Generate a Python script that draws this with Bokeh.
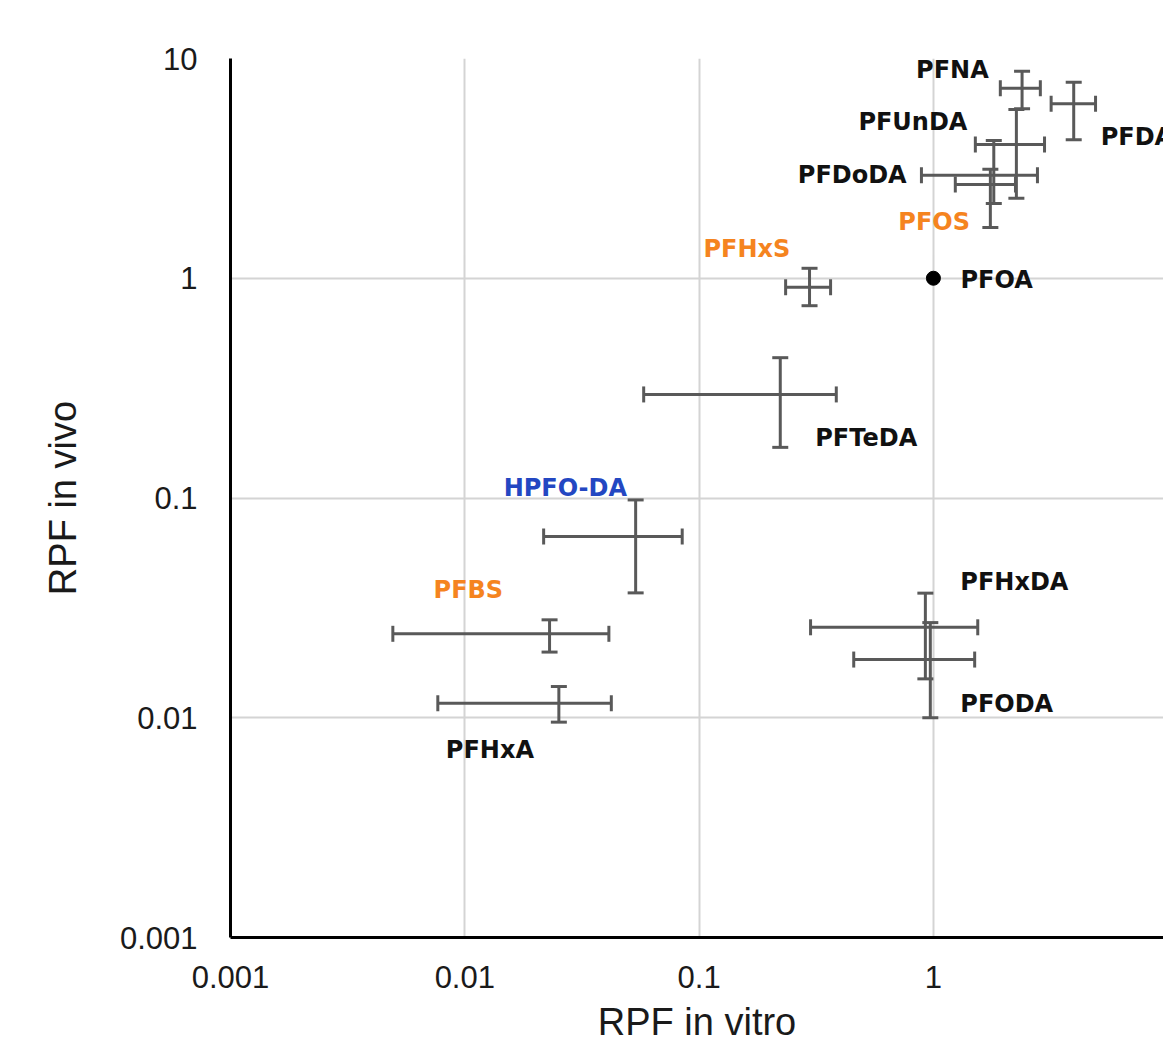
from bokeh.plotting import figure
from bokeh.models import ColumnDataSource, Whisker, TeeHead, Range1d, FixedTicker
from bokeh.embed import file_html
from bokeh.resources import INLINE
from bokeh.core.properties import value

# ---------------- data ----------------
compounds = ["PFNA", "PFDA", "PFUnDA", "PFDoDA", "PFOS", "PFOA", "PFHxS",
             "PFTeDA", "HPFO-DA", "PFBS", "PFHxA", "PFHxDA", "PFODA"]
compound_class = ["carboxylate", "carboxylate", "carboxylate", "carboxylate",
                  "sulfonate", "index", "sulfonate", "carboxylate", "ether",
                  "sulfonate", "carboxylate", "carboxylate", "carboxylate"]
rpf_in_vitro = [2.39, 3.97, 2.26, 1.81, 1.75, 1.0, 0.296, 0.222, 0.0536,
                0.0230, 0.0252, 0.924, 0.97]
in_vitro_low = [1.93, 3.18, 1.51, 0.889, 1.24, None, 0.234, 0.058, 0.0217,
                0.00493, 0.00767, 0.299, 0.457]
in_vitro_high = [2.86, 4.92, 2.98, 2.78, 2.24, None, 0.364, 0.385, 0.0847,
                 0.0412, 0.0422, 1.546, 1.50]
rpf_in_vivo = [7.32, 6.22, 4.06, 2.94, 2.67, 1.0, 0.91, 0.296, 0.0668,
               0.0241, 0.01164, 0.0258, 0.0184]
in_vivo_low = [5.9, 4.27, 2.31, 2.19, 1.70, None, 0.75, 0.170, 0.0370,
               0.0199, 0.00955, 0.01503, 0.0100]
in_vivo_high = [8.75, 7.8, 5.86, 4.24, 3.13, None, 1.11, 0.435, 0.098,
                0.0279, 0.01387, 0.0369, 0.0271]

tick_values = [0.001, 0.01, 0.1, 1, 10]
tick_labels = ["0.001", "0.01", "0.1", "1", "10"]
x_title = "RPF in vitro"
y_title = "RPF in vivo"

# ---------------- style ----------------
class_colors = {"carboxylate": "#111111", "index": "#111111",
                "sulfonate": "#F5841F", "ether": "#2347C2"}
# label placement relative to the point, in screen pixels (dx, dy)
label_offsets = {
    "PFNA": (-106, -18), "PFDA": (27, 33), "PFUnDA": (-158, -23),
    "PFDoDA": (-196, 0), "PFOS": (-92, 37), "PFOA": (27, 2),
    "PFHxS": (-106, -38), "PFTeDA": (35, 44), "HPFO-DA": (-132, -49),
    "PFBS": (-116, -44), "PFHxA": (-113, 47), "PFHxDA": (35, -45),
    "PFODA": (30, 44),
}
BAR = "#595959"
TICK_FONT = "Liberation Sans"

p = figure(width=1163, height=1045, x_axis_type="log", y_axis_type="log",
           x_range=Range1d(0.001, 9.594), y_range=Range1d(0.001, 10),
           output_backend="svg", toolbar_location=None,
           min_border_left=230, min_border_right=0, min_border_top=58,
           min_border_bottom=108)
p.outline_line_color = None
p.background_fill_color = "white"
p.border_fill_color = "white"

for ax, t in ((p.xaxis[0], x_title), (p.yaxis[0], y_title)):
    ax.ticker = FixedTicker(ticks=tick_values, minor_ticks=[])
    ax.major_label_overrides = {v: l for v, l in zip(tick_values, tick_labels)}
    ax.major_tick_line_color = None
    ax.minor_tick_line_color = None
    ax.axis_line_color = "black"
    ax.axis_line_width = 3
    ax.major_label_text_font = TICK_FONT
    ax.major_label_text_font_size = "31px"
    ax.major_label_text_color = "#1a1a1a"
    ax.axis_label = t
    ax.axis_label_text_font = TICK_FONT
    ax.axis_label_text_font_size = "38px"
    ax.axis_label_text_font_style = "normal"
    ax.axis_label_text_color = "#1a1a1a"
p.xaxis.major_label_standoff = 22
p.xaxis.axis_label_standoff = 10
p.yaxis.major_label_standoff = 27
p.yaxis.axis_label_standoff = 33

for g in p.grid:
    g.ticker = FixedTicker(ticks=tick_values, minor_ticks=[])
    g.grid_line_color = "#d4d4d4"
    g.grid_line_width = 2

# error bars
idx = [i for i in range(len(compounds)) if in_vitro_low[i] is not None]
err_src = ColumnDataSource(dict(
    x=[rpf_in_vitro[i] for i in idx], y=[rpf_in_vivo[i] for i in idx],
    xl=[in_vitro_low[i] for i in idx], xh=[in_vitro_high[i] for i in idx],
    yl=[in_vivo_low[i] for i in idx], yh=[in_vivo_high[i] for i in idx],
))
for base, lo, hi, dim in (("y", "xl", "xh", "width"), ("x", "yl", "yh", "height")):
    w = Whisker(source=err_src, base=base, lower=lo, upper=hi, dimension=dim,
                line_color=BAR, line_width=3,
                upper_head=TeeHead(size=16, line_color=BAR, line_width=3),
                lower_head=TeeHead(size=16, line_color=BAR, line_width=3))
    p.add_layout(w)

# reference compound (no error bars)
ref = [i for i in range(len(compounds)) if in_vitro_low[i] is None]
p.scatter([rpf_in_vitro[i] for i in ref], [rpf_in_vivo[i] for i in ref],
          size=14, color="black")

lab_src = ColumnDataSource(dict(
    x=rpf_in_vitro, y=rpf_in_vivo, name=compounds,
    color=[class_colors[c] for c in compound_class],
    dx=[label_offsets[n][0] for n in compounds],
    dy=[label_offsets[n][1] for n in compounds],
))
p.text(x="x", y="y", text="name", source=lab_src, x_offset="dx", y_offset="dy",
       text_color="color", text_font=value("DejaVu Sans"),
       text_font_style="bold", text_font_size="24px",
       text_align="left", text_baseline="middle")

open("out.html", "w").write(file_html(p, INLINE))
